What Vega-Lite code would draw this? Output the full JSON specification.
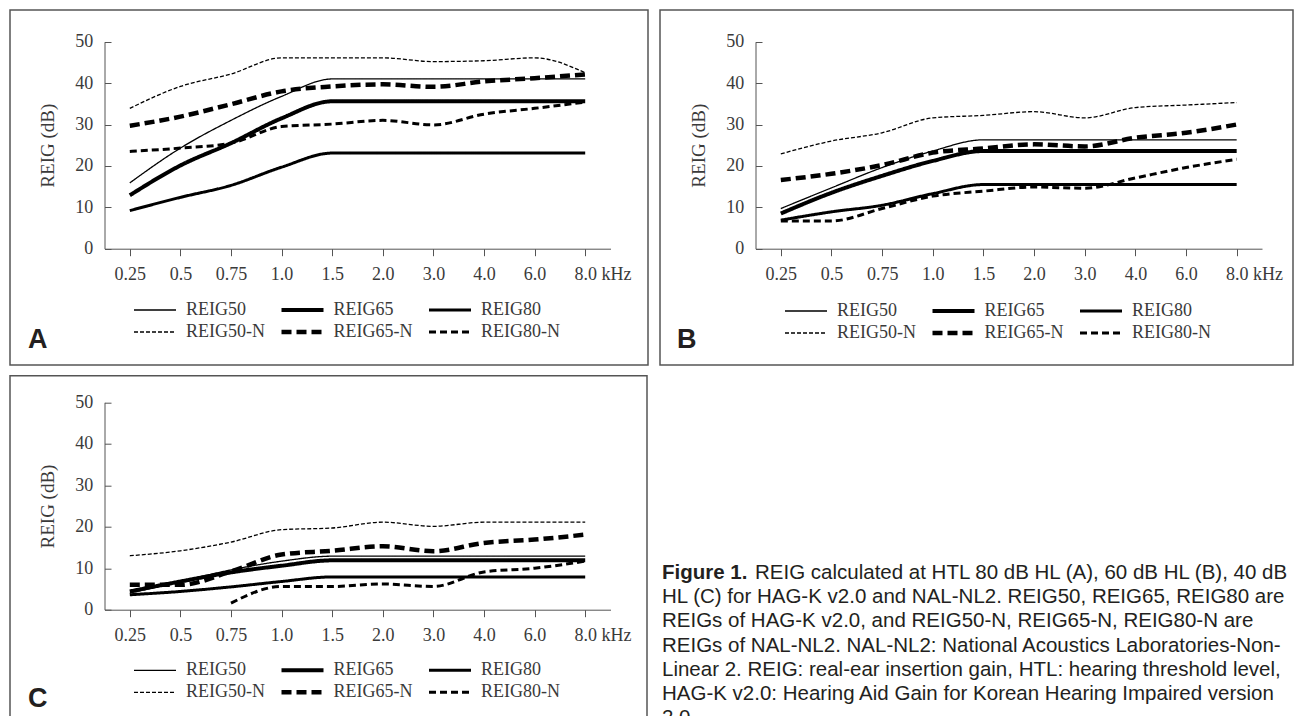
{
  "$schema": "https://vega.github.io/schema/vega-lite/v6.json",
  "padding": {"left": 9, "top": 9, "right": 0, "bottom": 0},
  "background": "white",
  "config": {
    "view": {"stroke": "#555555", "strokeWidth": 1.5},
    "font": "Liberation Serif",
    "axis": {"grid": false, "domainColor": "#555555", "tickColor": "#555555", "domainWidth": 1, "tickWidth": 1, "labelFont": "Liberation Serif", "labelFontSize": 18, "labelColor": "#3a3a3a", "titleFont": "Liberation Serif", "titleFontSize": 19, "titleFontWeight": "normal", "titleColor": "#3a3a3a"},
    "legend": {"padding": 0, "labelFont": "Liberation Serif", "labelFontSize": 18, "labelColor": "#3a3a3a"},
    "title": {"font": "Liberation Sans", "fontSize": 27, "fontWeight": "bold", "color": "#231f20"}
  },
  "resolve": {"scale": {"strokeDash": "independent"}, "legend": {"strokeDash": "independent"}},
  "data": {"values": [
    {"panel":"A","series":"REIG50","freq":"0.25","value":15.9},{"panel":"A","series":"REIG50","freq":"0.5","value":24.3},{"panel":"A","series":"REIG50","freq":"0.75","value":31.0},{"panel":"A","series":"REIG50","freq":"1.0","value":36.8},{"panel":"A","series":"REIG50","freq":"1.5","value":41.0},{"panel":"A","series":"REIG50","freq":"2.0","value":41.0},{"panel":"A","series":"REIG50","freq":"3.0","value":41.0},{"panel":"A","series":"REIG50","freq":"4.0","value":41.0},{"panel":"A","series":"REIG50","freq":"6.0","value":41.0},{"panel":"A","series":"REIG50","freq":"8.0","value":41.0},
    {"panel":"A","series":"REIG65","freq":"0.25","value":12.9},{"panel":"A","series":"REIG65","freq":"0.5","value":20.1},{"panel":"A","series":"REIG65","freq":"0.75","value":25.5},{"panel":"A","series":"REIG65","freq":"1.0","value":31.5},{"panel":"A","series":"REIG65","freq":"1.5","value":35.6},{"panel":"A","series":"REIG65","freq":"2.0","value":35.6},{"panel":"A","series":"REIG65","freq":"3.0","value":35.6},{"panel":"A","series":"REIG65","freq":"4.0","value":35.6},{"panel":"A","series":"REIG65","freq":"6.0","value":35.6},{"panel":"A","series":"REIG65","freq":"8.0","value":35.6},
    {"panel":"A","series":"REIG80","freq":"0.25","value":9.2},{"panel":"A","series":"REIG80","freq":"0.5","value":12.4},{"panel":"A","series":"REIG80","freq":"0.75","value":15.3},{"panel":"A","series":"REIG80","freq":"1.0","value":19.7},{"panel":"A","series":"REIG80","freq":"1.5","value":23.1},{"panel":"A","series":"REIG80","freq":"2.0","value":23.1},{"panel":"A","series":"REIG80","freq":"3.0","value":23.1},{"panel":"A","series":"REIG80","freq":"4.0","value":23.1},{"panel":"A","series":"REIG80","freq":"6.0","value":23.1},{"panel":"A","series":"REIG80","freq":"8.0","value":23.1},
    {"panel":"A","series":"REIG50-N","freq":"0.25","value":33.9},{"panel":"A","series":"REIG50-N","freq":"0.5","value":39.2},{"panel":"A","series":"REIG50-N","freq":"0.75","value":42.2},{"panel":"A","series":"REIG50-N","freq":"1.0","value":46.1},{"panel":"A","series":"REIG50-N","freq":"1.5","value":46.1},{"panel":"A","series":"REIG50-N","freq":"2.0","value":46.1},{"panel":"A","series":"REIG50-N","freq":"3.0","value":45.2},{"panel":"A","series":"REIG50-N","freq":"4.0","value":45.4},{"panel":"A","series":"REIG50-N","freq":"6.0","value":46.1},{"panel":"A","series":"REIG50-N","freq":"8.0","value":42.5},
    {"panel":"A","series":"REIG65-N","freq":"0.25","value":29.7},{"panel":"A","series":"REIG65-N","freq":"0.5","value":31.9},{"panel":"A","series":"REIG65-N","freq":"0.75","value":34.9},{"panel":"A","series":"REIG65-N","freq":"1.0","value":38.0},{"panel":"A","series":"REIG65-N","freq":"1.5","value":39.2},{"panel":"A","series":"REIG65-N","freq":"2.0","value":39.7},{"panel":"A","series":"REIG65-N","freq":"3.0","value":39.1},{"panel":"A","series":"REIG65-N","freq":"4.0","value":40.4},{"panel":"A","series":"REIG65-N","freq":"6.0","value":41.2},{"panel":"A","series":"REIG65-N","freq":"8.0","value":42.1},
    {"panel":"A","series":"REIG80-N","freq":"0.25","value":23.5},{"panel":"A","series":"REIG80-N","freq":"0.5","value":24.3},{"panel":"A","series":"REIG80-N","freq":"0.75","value":25.5},{"panel":"A","series":"REIG80-N","freq":"1.0","value":29.5},{"panel":"A","series":"REIG80-N","freq":"1.5","value":30.1},{"panel":"A","series":"REIG80-N","freq":"2.0","value":31.0},{"panel":"A","series":"REIG80-N","freq":"3.0","value":29.9},{"panel":"A","series":"REIG80-N","freq":"4.0","value":32.5},{"panel":"A","series":"REIG80-N","freq":"6.0","value":33.9},{"panel":"A","series":"REIG80-N","freq":"8.0","value":35.4},
    {"panel":"B","series":"REIG50","freq":"0.25","value":9.7},{"panel":"B","series":"REIG50","freq":"0.5","value":14.7},{"panel":"B","series":"REIG50","freq":"0.75","value":19.6},{"panel":"B","series":"REIG50","freq":"1.0","value":23.6},{"panel":"B","series":"REIG50","freq":"1.5","value":26.3},{"panel":"B","series":"REIG50","freq":"2.0","value":26.3},{"panel":"B","series":"REIG50","freq":"3.0","value":26.3},{"panel":"B","series":"REIG50","freq":"4.0","value":26.3},{"panel":"B","series":"REIG50","freq":"6.0","value":26.3},{"panel":"B","series":"REIG50","freq":"8.0","value":26.3},
    {"panel":"B","series":"REIG65","freq":"0.25","value":8.5},{"panel":"B","series":"REIG65","freq":"0.5","value":13.5},{"panel":"B","series":"REIG65","freq":"0.75","value":17.6},{"panel":"B","series":"REIG65","freq":"1.0","value":21.2},{"panel":"B","series":"REIG65","freq":"1.5","value":23.6},{"panel":"B","series":"REIG65","freq":"2.0","value":23.6},{"panel":"B","series":"REIG65","freq":"3.0","value":23.6},{"panel":"B","series":"REIG65","freq":"4.0","value":23.6},{"panel":"B","series":"REIG65","freq":"6.0","value":23.6},{"panel":"B","series":"REIG65","freq":"8.0","value":23.6},
    {"panel":"B","series":"REIG80","freq":"0.25","value":6.9},{"panel":"B","series":"REIG80","freq":"0.5","value":8.9},{"panel":"B","series":"REIG80","freq":"0.75","value":10.5},{"panel":"B","series":"REIG80","freq":"1.0","value":13.3},{"panel":"B","series":"REIG80","freq":"1.5","value":15.5},{"panel":"B","series":"REIG80","freq":"2.0","value":15.5},{"panel":"B","series":"REIG80","freq":"3.0","value":15.5},{"panel":"B","series":"REIG80","freq":"4.0","value":15.5},{"panel":"B","series":"REIG80","freq":"6.0","value":15.5},{"panel":"B","series":"REIG80","freq":"8.0","value":15.5},
    {"panel":"B","series":"REIG50-N","freq":"0.25","value":22.9},{"panel":"B","series":"REIG50-N","freq":"0.5","value":26.0},{"panel":"B","series":"REIG50-N","freq":"0.75","value":28.0},{"panel":"B","series":"REIG50-N","freq":"1.0","value":31.6},{"panel":"B","series":"REIG50-N","freq":"1.5","value":32.2},{"panel":"B","series":"REIG50-N","freq":"2.0","value":33.1},{"panel":"B","series":"REIG50-N","freq":"3.0","value":31.6},{"panel":"B","series":"REIG50-N","freq":"4.0","value":34.1},{"panel":"B","series":"REIG50-N","freq":"6.0","value":34.7},{"panel":"B","series":"REIG50-N","freq":"8.0","value":35.3},
    {"panel":"B","series":"REIG65-N","freq":"0.25","value":16.6},{"panel":"B","series":"REIG65-N","freq":"0.5","value":18.1},{"panel":"B","series":"REIG65-N","freq":"0.75","value":20.2},{"panel":"B","series":"REIG65-N","freq":"1.0","value":23.2},{"panel":"B","series":"REIG65-N","freq":"1.5","value":24.2},{"panel":"B","series":"REIG65-N","freq":"2.0","value":25.2},{"panel":"B","series":"REIG65-N","freq":"3.0","value":24.7},{"panel":"B","series":"REIG65-N","freq":"4.0","value":26.8},{"panel":"B","series":"REIG65-N","freq":"6.0","value":28.0},{"panel":"B","series":"REIG65-N","freq":"8.0","value":30.0},
    {"panel":"B","series":"REIG80-N","freq":"0.25","value":6.7},{"panel":"B","series":"REIG80-N","freq":"0.5","value":6.7},{"panel":"B","series":"REIG80-N","freq":"0.75","value":9.7},{"panel":"B","series":"REIG80-N","freq":"1.0","value":12.7},{"panel":"B","series":"REIG80-N","freq":"1.5","value":13.9},{"panel":"B","series":"REIG80-N","freq":"2.0","value":14.9},{"panel":"B","series":"REIG80-N","freq":"3.0","value":14.6},{"panel":"B","series":"REIG80-N","freq":"4.0","value":17.1},{"panel":"B","series":"REIG80-N","freq":"6.0","value":19.6},{"panel":"B","series":"REIG80-N","freq":"8.0","value":21.6},
    {"panel":"C","series":"REIG50","freq":"0.25","value":4.0},{"panel":"C","series":"REIG50","freq":"0.5","value":6.8},{"panel":"C","series":"REIG50","freq":"0.75","value":9.6},{"panel":"C","series":"REIG50","freq":"1.0","value":11.7},{"panel":"C","series":"REIG50","freq":"1.5","value":12.9},{"panel":"C","series":"REIG50","freq":"2.0","value":12.9},{"panel":"C","series":"REIG50","freq":"3.0","value":12.9},{"panel":"C","series":"REIG50","freq":"4.0","value":12.9},{"panel":"C","series":"REIG50","freq":"6.0","value":12.9},{"panel":"C","series":"REIG50","freq":"8.0","value":12.9},
    {"panel":"C","series":"REIG65","freq":"0.25","value":4.4},{"panel":"C","series":"REIG65","freq":"0.5","value":6.8},{"panel":"C","series":"REIG65","freq":"0.75","value":9.0},{"panel":"C","series":"REIG65","freq":"1.0","value":10.6},{"panel":"C","series":"REIG65","freq":"1.5","value":11.9},{"panel":"C","series":"REIG65","freq":"2.0","value":11.9},{"panel":"C","series":"REIG65","freq":"3.0","value":11.9},{"panel":"C","series":"REIG65","freq":"4.0","value":11.9},{"panel":"C","series":"REIG65","freq":"6.0","value":11.9},{"panel":"C","series":"REIG65","freq":"8.0","value":11.9},
    {"panel":"C","series":"REIG80","freq":"0.25","value":3.6},{"panel":"C","series":"REIG80","freq":"0.5","value":4.4},{"panel":"C","series":"REIG80","freq":"0.75","value":5.5},{"panel":"C","series":"REIG80","freq":"1.0","value":6.8},{"panel":"C","series":"REIG80","freq":"1.5","value":7.9},{"panel":"C","series":"REIG80","freq":"2.0","value":7.9},{"panel":"C","series":"REIG80","freq":"3.0","value":7.9},{"panel":"C","series":"REIG80","freq":"4.0","value":7.9},{"panel":"C","series":"REIG80","freq":"6.0","value":7.9},{"panel":"C","series":"REIG80","freq":"8.0","value":7.9},
    {"panel":"C","series":"REIG50-N","freq":"0.25","value":13.0},{"panel":"C","series":"REIG50-N","freq":"0.5","value":14.2},{"panel":"C","series":"REIG50-N","freq":"0.75","value":16.3},{"panel":"C","series":"REIG50-N","freq":"1.0","value":19.3},{"panel":"C","series":"REIG50-N","freq":"1.5","value":19.7},{"panel":"C","series":"REIG50-N","freq":"2.0","value":21.1},{"panel":"C","series":"REIG50-N","freq":"3.0","value":20.1},{"panel":"C","series":"REIG50-N","freq":"4.0","value":21.1},{"panel":"C","series":"REIG50-N","freq":"6.0","value":21.1},{"panel":"C","series":"REIG50-N","freq":"8.0","value":21.1},
    {"panel":"C","series":"REIG65-N","freq":"0.25","value":6.0},{"panel":"C","series":"REIG65-N","freq":"0.5","value":6.0},{"panel":"C","series":"REIG65-N","freq":"0.75","value":9.2},{"panel":"C","series":"REIG65-N","freq":"1.0","value":13.3},{"panel":"C","series":"REIG65-N","freq":"1.5","value":14.2},{"panel":"C","series":"REIG65-N","freq":"2.0","value":15.3},{"panel":"C","series":"REIG65-N","freq":"3.0","value":14.1},{"panel":"C","series":"REIG65-N","freq":"4.0","value":16.1},{"panel":"C","series":"REIG65-N","freq":"6.0","value":16.9},{"panel":"C","series":"REIG65-N","freq":"8.0","value":18.1},
    {"panel":"C","series":"REIG80-N","freq":"0.75","value":1.6},{"panel":"C","series":"REIG80-N","freq":"1.0","value":5.6},{"panel":"C","series":"REIG80-N","freq":"1.5","value":5.6},{"panel":"C","series":"REIG80-N","freq":"2.0","value":6.2},{"panel":"C","series":"REIG80-N","freq":"3.0","value":5.6},{"panel":"C","series":"REIG80-N","freq":"4.0","value":9.1},{"panel":"C","series":"REIG80-N","freq":"6.0","value":10.0},{"panel":"C","series":"REIG80-N","freq":"8.0","value":11.7}
  ]},
  "spacing": 8.7,
  "vconcat": [
    {
      "spacing": 10,
      "resolve": {"scale": {"strokeDash": "independent"}, "legend": {"strokeDash": "independent"}},
      "hconcat": [
        {
          "width": 638, "height": 355,
          "title": {"text": "A", "orient": "bottom", "anchor": "start", "frame": "group", "offset": -38, "dx": 18},
          "transform": [{"filter": "datum.panel == 'A'"}],
          "mark": {"type": "line", "interpolate": "monotone", "color": "black"},
          "encoding": {
            "x": {"field": "freq", "type": "ordinal", "scale": {"type": "point", "padding": 0.5, "domain": ["0.25","0.5","0.75","1.0","1.5","2.0","3.0","4.0","6.0","8.0"], "range": [94.5, 600.5]},
              "axis": {"title": null, "offset": -116.3, "tickSize": 7, "labelAngle": 0, "labelBaseline": "middle", "labelPadding": 18.6, "labelOverlap": false, "labelExpr": "datum.value == '8.0' ? '8.0 kHz' : datum.value", "labelAlign": {"condition": {"test": "datum.value == '8.0'", "value": "left"}, "value": "center"}, "labelOffset": {"condition": {"test": "datum.value == '8.0'", "value": -11.2}, "value": 0}}},
            "y": {"field": "value", "type": "quantitative", "scale": {"domain": [0, 50], "nice": false, "zero": false, "range": [238.7, 31.7]},
              "axis": {"title": "REIG (dB)", "offset": -94.5, "values": [0,10,20,30,40,50], "tickSize": -6.5, "labelPadding": 18.3, "labelFlush": false, "titlePadding": 17}},
            "strokeDash": {"field": "series", "type": "nominal",
              "scale": {"domain": ["REIG50","REIG65","REIG80","REIG50-N","REIG65-N","REIG80-N"], "range": [[1,0],[1,0],[1,0],[4,2],[10,5],[7,4]]},
              "legend": {"orient": "none", "legendX": 136, "legendY": 291, "columns": 3, "direction": "horizontal", "gridAlign": "all", "title": null, "symbolType": "stroke", "symbolSize": 1764, "symbolStrokeColor": "black", "labelOffset": 22, "columnPadding": 7.5, "rowPadding": 4,
                "encode": {"symbols": {"update": {"strokeWidth": {"signal": "datum.value == 'REIG65' ? 4 : datum.value == 'REIG80' ? 3 : datum.value == 'REIG65-N' ? 4.5 : datum.value == 'REIG80-N' ? 3 : 1.3"}}}}}},
            "strokeWidth": {"condition": [{"test": "datum.series == 'REIG65'", "value": 4}, {"test": "datum.series == 'REIG80'", "value": 3}, {"test": "datum.series == 'REIG65-N'", "value": 4.5}, {"test": "datum.series == 'REIG80-N'", "value": 3}], "value": 1.3}
          }
        },
        {
          "width": 633, "height": 355,
          "title": {"text": "B", "orient": "bottom", "anchor": "start", "frame": "group", "offset": -38, "dx": 17},
          "transform": [{"filter": "datum.panel == 'B'"}],
          "mark": {"type": "line", "interpolate": "monotone", "color": "black"},
          "encoding": {
            "x": {"field": "freq", "type": "ordinal", "scale": {"type": "point", "padding": 0.5, "domain": ["0.25","0.5","0.75","1.0","1.5","2.0","3.0","4.0","6.0","8.0"], "range": [95.5, 602]},
              "axis": {"title": null, "offset": -116.3, "tickSize": 7, "labelAngle": 0, "labelBaseline": "middle", "labelPadding": 18.6, "labelOverlap": false, "labelExpr": "datum.value == '8.0' ? '8.0 kHz' : datum.value", "labelAlign": {"condition": {"test": "datum.value == '8.0'", "value": "left"}, "value": "center"}, "labelOffset": {"condition": {"test": "datum.value == '8.0'", "value": -11.2}, "value": 0}}},
            "y": {"field": "value", "type": "quantitative", "scale": {"domain": [0, 50], "nice": false, "zero": false, "range": [238.7, 31.7]},
              "axis": {"title": "REIG (dB)", "offset": -95.5, "values": [0,10,20,30,40,50], "tickSize": -6.5, "labelPadding": 18.3, "labelFlush": false, "titlePadding": 17}},
            "strokeDash": {"field": "series", "type": "nominal",
              "scale": {"domain": ["REIG50","REIG65","REIG80","REIG50-N","REIG65-N","REIG80-N"], "range": [[1,0],[1,0],[1,0],[4,2],[10,5],[7,4]]},
              "legend": {"orient": "none", "legendX": 137, "legendY": 292, "columns": 3, "direction": "horizontal", "gridAlign": "all", "title": null, "symbolType": "stroke", "symbolSize": 1764, "symbolStrokeColor": "black", "labelOffset": 22, "columnPadding": 7.5, "rowPadding": 4,
                "encode": {"symbols": {"update": {"strokeWidth": {"signal": "datum.value == 'REIG65' ? 4 : datum.value == 'REIG80' ? 3 : datum.value == 'REIG65-N' ? 4.5 : datum.value == 'REIG80-N' ? 3 : 1.3"}}}}}},
            "strokeWidth": {"condition": [{"test": "datum.series == 'REIG65'", "value": 4}, {"test": "datum.series == 'REIG80'", "value": 3}, {"test": "datum.series == 'REIG65-N'", "value": 4.5}, {"test": "datum.series == 'REIG80-N'", "value": 3}], "value": 1.3}
          }
        }
      ]
    },
    {
      "spacing": 14,
      "resolve": {"scale": {"strokeDash": "independent"}, "legend": {"strokeDash": "independent"}},
      "hconcat": [
        {
          "width": 637, "height": 355,
          "title": {"text": "C", "orient": "bottom", "anchor": "start", "frame": "group", "offset": -45, "dx": 18},
          "transform": [{"filter": "datum.panel == 'C'"}],
          "mark": {"type": "line", "interpolate": "monotone", "color": "black"},
          "encoding": {
            "x": {"field": "freq", "type": "ordinal", "scale": {"type": "point", "padding": 0.5, "domain": ["0.25","0.5","0.75","1.0","1.5","2.0","3.0","4.0","6.0","8.0"], "range": [94.5, 600.5]},
              "axis": {"title": null, "offset": -121, "tickSize": 7, "labelAngle": 0, "labelBaseline": "middle", "labelPadding": 18.6, "labelOverlap": false, "labelExpr": "datum.value == '8.0' ? '8.0 kHz' : datum.value", "labelAlign": {"condition": {"test": "datum.value == '8.0'", "value": "left"}, "value": "center"}, "labelOffset": {"condition": {"test": "datum.value == '8.0'", "value": -11.2}, "value": 0}}},
            "y": {"field": "value", "type": "quantitative", "scale": {"domain": [0, 50], "nice": false, "zero": false, "range": [234, 26.6]},
              "axis": {"title": "REIG (dB)", "offset": -94.5, "values": [0,10,20,30,40,50], "tickSize": -6.5, "labelPadding": 18.3, "labelFlush": false, "titlePadding": 17}},
            "strokeDash": {"field": "series", "type": "nominal",
              "scale": {"domain": ["REIG50","REIG65","REIG80","REIG50-N","REIG65-N","REIG80-N"], "range": [[1,0],[1,0],[1,0],[4,2],[10,5],[7,4]]},
              "legend": {"orient": "none", "legendX": 136, "legendY": 285.6, "columns": 3, "direction": "horizontal", "gridAlign": "all", "title": null, "symbolType": "stroke", "symbolSize": 1764, "symbolStrokeColor": "black", "labelOffset": 22, "columnPadding": 7.5, "rowPadding": 4,
                "encode": {"symbols": {"update": {"strokeWidth": {"signal": "datum.value == 'REIG65' ? 4 : datum.value == 'REIG80' ? 3 : datum.value == 'REIG65-N' ? 4.5 : datum.value == 'REIG80-N' ? 3 : 1.3"}}}}}},
            "strokeWidth": {"condition": [{"test": "datum.series == 'REIG65'", "value": 4}, {"test": "datum.series == 'REIG80'", "value": 3}, {"test": "datum.series == 'REIG65-N'", "value": 4.5}, {"test": "datum.series == 'REIG80-N'", "value": 3}], "value": 1.3}
          }
        },
        {
          "width": 630, "height": 355,
          "view": {"stroke": null},
          "data": {"values": [
            {"line": 1, "lead": "Figure 1.", "text": "REIG calculated at HTL 80 dB HL (A), 60 dB HL (B), 40 dB"},
            {"line": 2, "lead": "", "text": "HL (C) for HAG-K v2.0 and NAL-NL2. REIG50, REIG65, REIG80 are"},
            {"line": 3, "lead": "", "text": "REIGs of HAG-K v2.0, and REIG50-N, REIG65-N, REIG80-N are"},
            {"line": 4, "lead": "", "text": "REIGs of NAL-NL2. NAL-NL2: National Acoustics Laboratories-Non-"},
            {"line": 5, "lead": "", "text": "Linear 2. REIG: real-ear insertion gain, HTL: hearing threshold level,"},
            {"line": 6, "lead": "", "text": "HAG-K v2.0: Hearing Aid Gain for Korean Hearing Impaired version"},
            {"line": 7, "lead": "", "text": "2.0"}
          ]},
          "encoding": {
            "x": {"datum": 0, "type": "quantitative", "scale": {"domain": [0, 1], "range": [0, 630]}, "axis": null},
            "y": {"field": "line", "type": "quantitative", "scale": {"domain": [1, 7], "range": [197.3, 342.5]}, "axis": null}
          },
          "layer": [
            {"transform": [{"filter": "datum.line == 1"}], "mark": {"type": "text", "align": "left", "baseline": "middle", "font": "Liberation Sans", "fontSize": 20.5, "fontWeight": "bold", "color": "#231f20"}, "encoding": {"text": {"field": "lead"}}},
            {"transform": [{"filter": "datum.line == 1"}], "mark": {"type": "text", "align": "left", "baseline": "middle", "font": "Liberation Sans", "fontSize": 20.5, "color": "#231f20", "dx": 93}, "encoding": {"text": {"field": "text"}}},
            {"transform": [{"filter": "datum.line > 1"}], "mark": {"type": "text", "align": "left", "baseline": "middle", "font": "Liberation Sans", "fontSize": 20.5, "color": "#231f20"}, "encoding": {"text": {"field": "text"}}}
          ]
        }
      ]
    }
  ]
}
